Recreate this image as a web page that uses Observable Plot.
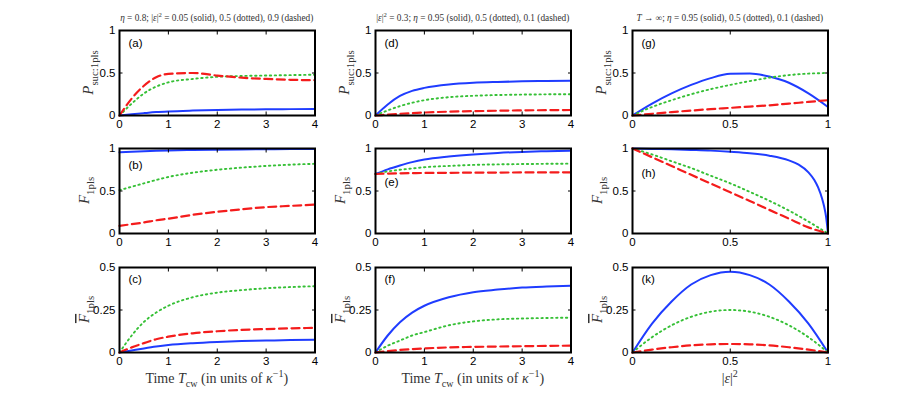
<!DOCTYPE html>
<html><head><meta charset="utf-8">
<script src="https://cdn.jsdelivr.net/npm/d3@7"></script>
<script src="https://cdn.jsdelivr.net/npm/@observablehq/plot@0.6"></script>
<style>
body{margin:0;background:#fff}
#fig{position:relative;width:913px;height:396px;overflow:hidden;background:#fff}
#fig svg{position:absolute;background:transparent;max-width:none;overflow:visible}
</style>
</head><body><div id="fig"></div>
<script>
// ---- tick labels ----
const xTicksTime = [0, 1, 2, 3, 4];
const xTicksEps = [0, 0.5, 1];
const yTicksUnit = [0, 0.5, 1];
const yTicksHalf = [0, 0.25, 0.5];

// ---- x grids ----
const tTime = [0, 0.25, 0.5, 0.75, 1, 1.5, 2, 2.5, 3, 3.5, 4];
const eGrid = [0, 0.1, 0.2, 0.3, 0.4, 0.5, 0.6, 0.7, 0.8, 0.9, 1];
const eGridH = [0, 0.1, 0.2, 0.3, 0.4, 0.5, 0.6, 0.7, 0.8, 0.85, 0.9, 0.93, 0.95, 0.97, 0.98, 0.99, 1];

// ---- (a) P_suc vs time, eta=0.8 ----
const aSolid  = [0, 0.015, 0.028, 0.04, 0.048, 0.058, 0.065, 0.07, 0.073, 0.075, 0.077];
const aDotted = [0, 0.14, 0.26, 0.34, 0.39, 0.43, 0.455, 0.465, 0.47, 0.475, 0.48];
const aDashed = [0, 0.2, 0.35, 0.45, 0.49, 0.5, 0.47, 0.445, 0.43, 0.42, 0.415];
// ---- (b) F vs time ----
const bSolid  = [0.955, 0.962, 0.968, 0.973, 0.977, 0.982, 0.986, 0.989, 0.991, 0.993, 0.994];
const bDotted = [0.51, 0.55, 0.59, 0.63, 0.665, 0.715, 0.75, 0.775, 0.795, 0.81, 0.82];
const bDashed = [0.09, 0.11, 0.13, 0.155, 0.175, 0.22, 0.255, 0.285, 0.31, 0.325, 0.34];
// ---- (c) Fbar vs time ----
const cSolid  = [0, 0.012, 0.024, 0.035, 0.044, 0.055, 0.062, 0.067, 0.07, 0.073, 0.075];
const cDotted = [0, 0.1, 0.18, 0.235, 0.275, 0.325, 0.352, 0.367, 0.378, 0.385, 0.39];
const cDashed = [0, 0.03, 0.055, 0.078, 0.093, 0.113, 0.125, 0.133, 0.138, 0.142, 0.145];
// ---- (d) P_suc vs time, |eps|^2=0.3 ----
const dSolid  = [0, 0.13, 0.23, 0.29, 0.325, 0.365, 0.385, 0.395, 0.402, 0.406, 0.41];
const dDotted = [0, 0.06, 0.11, 0.15, 0.18, 0.215, 0.232, 0.241, 0.246, 0.249, 0.25];
const dDashed = [0, 0.01, 0.02, 0.028, 0.035, 0.045, 0.051, 0.056, 0.06, 0.063, 0.065];
// ---- (e) F vs time ----
const eSolid  = [0.7, 0.755, 0.8, 0.84, 0.87, 0.905, 0.93, 0.948, 0.96, 0.968, 0.975];
const eDotted = [0.7, 0.73, 0.75, 0.765, 0.78, 0.795, 0.807, 0.813, 0.817, 0.82, 0.822];
const eDashed = [0.7, 0.705, 0.708, 0.71, 0.712, 0.714, 0.716, 0.717, 0.718, 0.719, 0.72];
// ---- (f) Fbar vs time ----
const fSolid  = [0, 0.1, 0.178, 0.235, 0.275, 0.325, 0.355, 0.37, 0.382, 0.388, 0.392];
const fDotted = [0, 0.04, 0.07, 0.1, 0.12, 0.16, 0.183, 0.195, 0.2, 0.203, 0.205];
const fDashed = [0, 0.008, 0.015, 0.02, 0.024, 0.03, 0.033, 0.035, 0.037, 0.039, 0.04];
// ---- (g) P_suc vs |eps|^2, T -> inf ----
const gSolid  = [0, 0.14, 0.26, 0.36, 0.44, 0.49, 0.495, 0.458, 0.385, 0.26, 0.1];
const gDotted = [0, 0.1, 0.18, 0.25, 0.31, 0.36, 0.405, 0.445, 0.475, 0.493, 0.5];
const gDashed = [0, 0.02, 0.04, 0.058, 0.075, 0.09, 0.105, 0.12, 0.14, 0.16, 0.18];
// ---- (h) F vs |eps|^2 ----
const hSolid  = [1, 0.995, 0.99, 0.983, 0.975, 0.962, 0.945, 0.915, 0.86, 0.81, 0.72, 0.63, 0.54, 0.41, 0.32, 0.2, 0];
const hDotted = [1, 0.93, 0.85, 0.77, 0.68, 0.59, 0.49, 0.385, 0.27, 0.14, 0];
const hDashed = [1, 0.897, 0.794, 0.69, 0.588, 0.485, 0.382, 0.278, 0.175, 0.072, 0];
// ---- (k) Fbar vs |eps|^2 ----
const kSolid  = [0, 0.17, 0.3, 0.4, 0.455, 0.475, 0.455, 0.4, 0.3, 0.17, 0];
const kDotted = [0, 0.09, 0.16, 0.21, 0.24, 0.25, 0.24, 0.21, 0.16, 0.09, 0];
const kDashed = [0, 0.017, 0.031, 0.042, 0.048, 0.05, 0.048, 0.042, 0.031, 0.017, 0];

// ---- styling / layout ----
const BLUE = "#1f3cff", GREEN = "#36c036", RED = "#f41c1c";
const FRAME_LEFT = [118.5, 375, 632];
const FRAME_TOP = [30, 148.3, 267.3];
const W = 195.5, H = 85;
const ML = 62, MR = 14, MT = 26, MB = 44;
const SANS = "'Liberation Sans', Arial, Helvetica, sans-serif";
const SERIF = "'Liberation Serif', 'Times New Roman', serif";

const fig = d3.select("#fig");

function rich(textSel, parts, base) {
  let shift = 0;
  parts.forEach(p => {
    const ts = textSel.append("tspan").text(p.t);
    const target = p.sub ? base * 0.32 : p.sup ? -base * 0.42 : 0;
    const dy = target - shift; shift = target;
    if (dy) ts.attr("dy", dy);
    ts.attr("font-size", (p.sub || p.sup) ? base * 0.72 : base);
    if (p.i) ts.attr("font-style", "italic");
    if (p.ov) ts.style("text-decoration", "overline");
  });
}

const yLabels = [
  [{t: "P", i: 1}, {t: "suc:1pls", sub: 1}],
  [{t: "F", i: 1}, {t: "1pls", sub: 1}],
  [{t: "F", i: 1, ov: 1}, {t: "1pls", sub: 1}]
];
const titles = [
  [{t: "η", i: 1}, {t: " = 0.8; |"}, {t: "ε", i: 1}, {t: "|"}, {t: "2", sup: 1}, {t: " = 0.05 (solid), 0.5 (dotted), 0.9 (dashed)"}],
  [{t: "|"}, {t: "ε", i: 1}, {t: "|"}, {t: "2", sup: 1}, {t: " = 0.3; "}, {t: "η", i: 1}, {t: " = 0.95 (solid), 0.5 (dotted), 0.1 (dashed)"}],
  [{t: "T", i: 1}, {t: " → ∞; "}, {t: "η", i: 1}, {t: " = 0.95 (solid), 0.5 (dotted), 0.1 (dashed)"}]
];
const xLabels = [
  [{t: "Time "}, {t: "T", i: 1}, {t: "cw", sub: 1}, {t: " (in units of "}, {t: "κ", i: 1}, {t: "−1", sup: 1}, {t: ")"}],
  [{t: "Time "}, {t: "T", i: 1}, {t: "cw", sub: 1}, {t: " (in units of "}, {t: "κ", i: 1}, {t: "−1", sup: 1}, {t: ")"}],
  [{t: "|"}, {t: "ε", i: 1}, {t: "|"}, {t: "2", sup: 1}]
];

const panels = [
  {col: 0, row: 0, letter: "(a)", ldy: 13, xs: [tTime, tTime, tTime], ys: [aSolid, aDotted, aDashed]},
  {col: 0, row: 1, letter: "(b)", ldy: 17, xs: [tTime, tTime, tTime], ys: [bSolid, bDotted, bDashed]},
  {col: 0, row: 2, letter: "(c)", ldy: 12, xs: [tTime, tTime, tTime], ys: [cSolid, cDotted, cDashed]},
  {col: 1, row: 0, letter: "(d)", ldy: 13, xs: [tTime, tTime, tTime], ys: [dSolid, dDotted, dDashed]},
  {col: 1, row: 1, letter: "(e)", ldy: 34, xs: [tTime, tTime, tTime], ys: [eSolid, eDotted, eDashed]},
  {col: 1, row: 2, letter: "(f)", ldy: 12, xs: [tTime, tTime, tTime], ys: [fSolid, fDotted, fDashed]},
  {col: 2, row: 0, letter: "(g)", ldy: 13, xs: [eGrid, eGrid, eGrid], ys: [gSolid, gDotted, gDashed]},
  {col: 2, row: 1, letter: "(h)", ldy: 25, xs: [eGridH, eGrid, eGrid], ys: [hSolid, hDotted, hDashed]},
  {col: 2, row: 2, letter: "(k)", ldy: 12, xs: [eGrid, eGrid, eGrid], ys: [kSolid, kDotted, kDashed]}
];

const fmt = d => String(d);

panels.forEach(p => {
  const xDomain = p.col < 2 ? [0, 4] : [0, 1];
  const xTicks = p.col < 2 ? xTicksTime : xTicksEps;
  const yDomain = p.row < 2 ? [0, 1] : [0, 0.5];
  const yTicks = p.row < 2 ? yTicksUnit : yTicksHalf;
  const pts = (xs, ys) => xs.map((x, i) => ({x, y: ys[i]}));
  const styles = [
    {stroke: BLUE, strokeWidth: 2, strokeDasharray: null},
    {stroke: GREEN, strokeWidth: 1.9, strokeDasharray: "1.4 3.5"},
    {stroke: RED, strokeWidth: 2.2, strokeDasharray: "8 4.5"}
  ];
  const lines = p.ys.map((ys, k) => Plot.line(pts(p.xs[k], ys), {
    x: "x", y: "y", curve: "monotone-x", ...styles[k]
  }));
  const svg = Plot.plot({
    width: W + ML + MR, height: H + MT + MB,
    marginLeft: ML, marginRight: MR, marginTop: MT, marginBottom: MB,
    style: {background: "transparent", fontFamily: SANS, fontSize: "11.5px", color: "#000", overflow: "visible"},
    x: {domain: xDomain},
    y: {domain: yDomain},
    marks: [
      ...lines,
      Plot.frame({stroke: "#000", strokeWidth: 2}),
      Plot.axisX({anchor: "bottom", ticks: xTicks, tickSize: -3.5, text: null, label: null}),
      Plot.axisX({anchor: "top", ticks: xTicks, tickSize: -3.5, text: null, label: null}),
      Plot.axisY({anchor: "left", ticks: yTicks, tickSize: -3.5, text: null, label: null}),
      Plot.axisY({anchor: "right", ticks: yTicks, tickSize: -3.5, text: null, label: null}),
      Plot.axisX({anchor: "bottom", ticks: xTicks, tickFormat: fmt, tickSize: 0, tickPadding: 4, fontSize: 11.5, label: null}),
      Plot.axisY({anchor: "left", ticks: yTicks, tickFormat: fmt, tickSize: 0, tickPadding: 4, fontSize: 11.5, label: null}),
      Plot.text([p.letter], {frameAnchor: "top-left", text: d => d, dx: 9, dy: p.ldy, textAnchor: "start", lineAnchor: "middle", fontSize: 11.5})
    ]
  });
  svg.style.left = (FRAME_LEFT[p.col] - ML) + "px";
  svg.style.top = (FRAME_TOP[p.row] - MT) + "px";
  fig.node().appendChild(svg);
  const s = d3.select(svg);
  // y label
  const yoff = p.row === 0 ? 26 : 30;
  const yl = s.append("text")
    .attr("transform", `translate(${ML - yoff},${MT + H / 2}) rotate(-90)`)
    .attr("text-anchor", "middle").attr("font-family", SERIF).attr("fill", "#333");
  rich(yl, yLabels[p.row], 15);
  // column title
  if (p.row === 0) {
    const tt = s.append("text")
      .attr("x", ML + W / 2).attr("y", MT - 9)
      .attr("text-anchor", "middle").attr("font-family", SERIF).attr("fill", "#333");
    rich(tt, titles[p.col], 9.3);
  }
  // x label
  if (p.row === 2) {
    const xl = s.append("text")
      .attr("x", ML + W / 2).attr("y", MT + H + 31)
      .attr("text-anchor", "middle").attr("font-family", SERIF).attr("fill", "#333");
    rich(xl, xLabels[p.col], 14);
  }
});
</script></body></html>
